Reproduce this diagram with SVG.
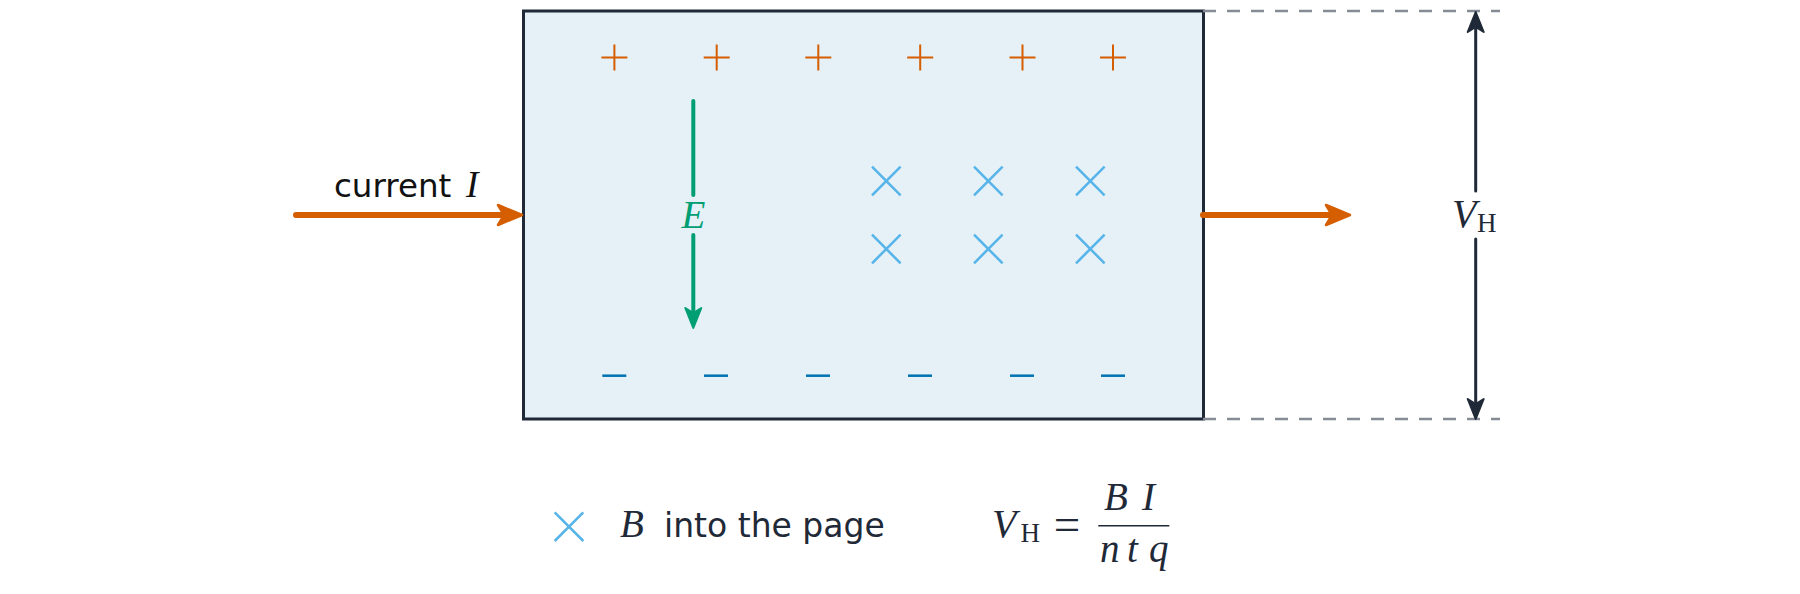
<svg xmlns="http://www.w3.org/2000/svg" width="1800" height="594" viewBox="0 0 1800 594">
  <style>
    .sans { font-family: "DejaVu Sans", "Liberation Sans", sans-serif; }
    .mi { font-family: "Liberation Serif", "Times New Roman", serif; font-style: italic; }
    .rm { font-family: "Liberation Serif", "Times New Roman", serif; }
    .plus { stroke: #d55e00; stroke-width: 2; fill: none; }
    .minus { stroke: #0072b2; stroke-width: 2.5; fill: none; }
    .cross { stroke: #56b4e9; stroke-width: 2.5; fill: none; }
    .ink { fill: #1f2937; }
    .dash { stroke: #868c95; stroke-width: 2.4; stroke-dasharray: 13 11; fill: none; }
  </style>
  <defs>
    <marker id="ah-orange" markerUnits="userSpaceOnUse" viewBox="-3 -14 32 28" refX="6" refY="0" markerWidth="32" markerHeight="28" orient="auto">
      <path d="M0,-10 L24,0 L0,10 L6,0 Z" fill="#d55e00" stroke="#d55e00" stroke-width="2.5" stroke-linejoin="round"/>
    </marker>
    <marker id="ah-green" markerUnits="userSpaceOnUse" viewBox="-3 -12 28 24" refX="5" refY="0" markerWidth="28" markerHeight="24" orient="auto">
      <path d="M0,-8 L20,0 L0,8 L5,0 Z" fill="#009e73" stroke="#009e73" stroke-width="2" stroke-linejoin="round"/>
    </marker>
    <marker id="ah-dark" markerUnits="userSpaceOnUse" viewBox="-3 -12 28 24" refX="5" refY="0" markerWidth="28" markerHeight="24" orient="auto">
      <path d="M0,-8 L20,0 L0,8 L5,0 Z" fill="#1f2937" stroke="#1f2937" stroke-width="2" stroke-linejoin="round"/>
    </marker>
    <g id="x-mark"><path d="M-14.3,-14.3 L14.3,14.3 M-14.3,14.3 L14.3,-14.3"/></g>
  </defs>

  <rect width="1800" height="594" fill="#ffffff"/>

  <g id="plate">
    <rect x="523.5" y="11" width="680" height="408" fill="#e5f0f7" stroke="#1f2937" stroke-width="3"/>
  </g>

  <g id="dimension-guides">
    <line class="dash" x1="1203" y1="11" x2="1500" y2="11"/>
    <line class="dash" x1="1203" y1="419" x2="1500" y2="419"/>
  </g>

  <g id="positive-charges" class="plus">
    <path d="M601.4,57.5 h26 M614.4,44.5 v26"/>
    <path d="M703.7,57.5 h26 M716.7,44.5 v26"/>
    <path d="M805.3,57.5 h26 M818.3,44.5 v26"/>
    <path d="M907.2,57.5 h26 M920.2,44.5 v26"/>
    <path d="M1009.5,57.5 h26 M1022.5,44.5 v26"/>
    <path d="M1100,57.5 h26 M1113,44.5 v26"/>
  </g>

  <g id="negative-charges" class="minus">
    <path d="M602.3,375.7 h24"/>
    <path d="M704,375.7 h24"/>
    <path d="M806,375.7 h24"/>
    <path d="M908,375.7 h24"/>
    <path d="M1010,375.7 h24"/>
    <path d="M1101,375.7 h24"/>
  </g>

  <g id="magnetic-field" class="cross">
    <use href="#x-mark" x="886.3" y="181"/>
    <use href="#x-mark" x="988.3" y="181"/>
    <use href="#x-mark" x="1090.3" y="181"/>
    <use href="#x-mark" x="886.3" y="249"/>
    <use href="#x-mark" x="988.3" y="249"/>
    <use href="#x-mark" x="1090.3" y="249"/>
  </g>

  <g id="connectors" fill="none" stroke-linecap="round">
    <line id="current-in" x1="296" y1="215" x2="504" y2="215" stroke="#d55e00" stroke-width="6" marker-end="url(#ah-orange)"/>
    <line id="current-out" x1="1203" y1="215" x2="1332" y2="215" stroke="#d55e00" stroke-width="6" marker-end="url(#ah-orange)"/>
    <line id="e-field-top" x1="693.3" y1="101" x2="693.3" y2="195" stroke="#009e73" stroke-width="4"/>
    <line id="e-field-bottom" x1="693.3" y1="235" x2="693.3" y2="313" stroke="#009e73" stroke-width="4" marker-end="url(#ah-green)"/>
    <line id="vh-up" x1="1475.7" y1="191" x2="1475.7" y2="27" stroke="#1f2937" stroke-width="3" marker-end="url(#ah-dark)"/>
    <line id="vh-down" x1="1475.7" y1="239" x2="1475.7" y2="404" stroke="#1f2937" stroke-width="3" marker-end="url(#ah-dark)"/>
  </g>

  <g id="label-current">
    <text class="sans" x="334" y="197" font-size="32.5" fill="#111111">current</text>
    <text class="mi" x="466" y="197" font-size="37" fill="#111111">I</text>
  </g>

  <g id="label-e">
    <text class="mi" x="693.3" y="228" font-size="39" fill="#009e73" text-anchor="middle">E</text>
  </g>

  <g id="label-vh">
    <text class="mi ink" x="1452" y="227" font-size="40">V</text>
    <text class="rm ink" x="1477" y="232" font-size="27">H</text>
  </g>

  <g id="legend">
    <use href="#x-mark" x="569" y="526.7" class="cross"/>
    <text class="mi ink" x="620" y="537" font-size="39">B</text>
    <text class="sans ink" x="664" y="537" font-size="33">into the page</text>
  </g>

  <g id="formula" class="ink">
    <text class="mi" x="992" y="537.3" font-size="40">V</text>
    <text class="rm" x="1020.5" y="541.7" font-size="27">H</text>
    <text class="rm" x="1067" y="540" font-size="47" text-anchor="middle">=</text>
    <line x1="1098.3" y1="525.7" x2="1169.3" y2="525.7" stroke="#1f2937" stroke-width="1.6"/>
    <text class="mi" y="510" font-size="39"><tspan x="1104">B</tspan><tspan x="1142">I</tspan></text>
    <text class="mi" y="561.7" font-size="39"><tspan x="1100">n</tspan><tspan x="1127">t</tspan><tspan x="1149">q</tspan></text>
  </g>
</svg>
